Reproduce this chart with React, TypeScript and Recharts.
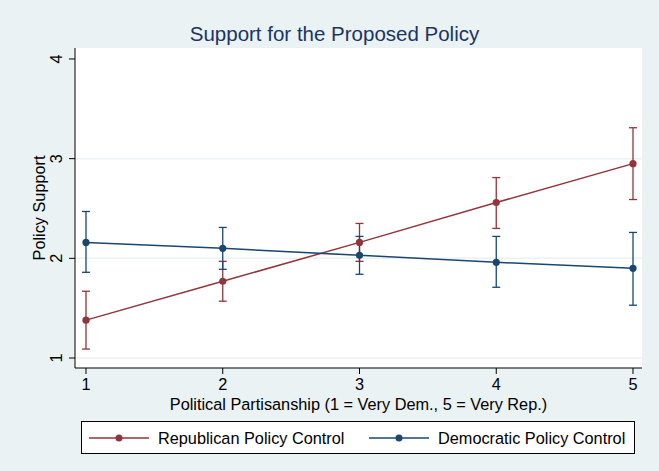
import React from 'react';
import { ComposedChart, Line, XAxis, YAxis, CartesianGrid, ErrorBar, Legend } from 'recharts';

// Mean policy support by partisanship, with 95% confidence bounds
const partisanship = [1, 2, 3, 4, 5];
const republicanMean = [1.38, 1.77, 2.16, 2.56, 2.95];
const republicanLow = [1.09, 1.57, 1.97, 2.3, 2.59];
const republicanHigh = [1.67, 1.97, 2.35, 2.81, 3.31];
const democraticMean = [2.16, 2.1, 2.03, 1.96, 1.9];
const democraticLow = [1.86, 1.89, 1.84, 1.71, 1.53];
const democraticHigh = [2.47, 2.31, 2.22, 2.22, 2.26];
const xTicks = [1, 2, 3, 4, 5];
const yTicks = [1, 2, 3, 4];

const seriesNames = ['Republican Policy Control', 'Democratic Policy Control'];

const RED = '#90353b';
const NAVY = '#1a476f';
const BG = '#eaf2f3';
const FONT = '"Liberation Sans", Arial, Helvetica, sans-serif';
const TEXT_SIZE = 16.3;

const build = (mean: number[], low: number[], high: number[]) =>
  partisanship.map((x, i) => ({
    x,
    y: mean[i],
    err: [mean[i] - low[i], high[i] - mean[i]],
  }));

const republicanData = build(republicanMean, republicanLow, republicanHigh);
const democraticData = build(democraticMean, democraticLow, democraticHigh);

// Vertical tick labels on the y axis
const YTick = (props: any) => {
  const { x, y, payload } = props;
  const bx = x - 1;
  return (
    <text
      x={bx}
      y={y}
      transform={`rotate(-90 ${bx} ${y})`}
      textAnchor="middle"
      fontSize={TEXT_SIZE}
      fontFamily={FONT}
      fill="#000"
    >
      {payload.value}
    </text>
  );
};

const legendOffsets = [
  { marker: 7, text: 76 },
  { marker: 287, text: 356 },
];

const LegendBox = (props: any) => {
  const payload = props.payload || [];
  const ordered = seriesNames
    .map((name) => payload.find((p: any) => p.value === name))
    .filter(Boolean);
  return (
    <div
      style={{
        width: 554,
        height: 33,
        boxSizing: 'border-box',
        border: '1px solid #000',
        background: '#fff',
        position: 'relative',
        fontFamily: FONT,
        fontSize: TEXT_SIZE,
        color: '#000',
      }}
    >
      {ordered.map((entry: any, i: number) => (
        <React.Fragment key={entry.value}>
          <svg
            width={60}
            height={10}
            style={{ position: 'absolute', left: legendOffsets[i].marker, top: 10.5 }}
          >
            <line x1={0} y1={5} x2={60} y2={5} stroke={entry.color} strokeWidth={1.5} />
            <circle cx={30} cy={5} r={3.5} fill={entry.color} />
          </svg>
          <span
            style={{
              position: 'absolute',
              left: legendOffsets[i].text,
              top: 5.7,
              lineHeight: '20px',
              whiteSpace: 'nowrap',
            }}
          >
            {entry.value}
          </span>
        </React.Fragment>
      ))}
    </div>
  );
};

export default function App() {
  return (
    <div
      style={{
        position: 'absolute',
        left: 0,
        top: 0,
        width: 659,
        height: 471,
        background: BG,
        fontFamily: FONT,
      }}
    >
      <div
        style={{
          position: 'absolute',
          left: 0,
          top: 22,
          width: 669,
          textAlign: 'center',
          fontSize: 20.5,
          lineHeight: '24px',
          color: '#1c3462',
          fontFamily: FONT,
        }}
      >
        Support for the Proposed Policy
      </div>
      <ComposedChart
        width={659}
        height={471}
        margin={{ top: 48, right: 17, left: 0, bottom: 20 }}
        style={{ position: 'absolute', left: 0, top: 0 }}
      >
        <CartesianGrid
          horizontal
          vertical={false}
          horizontalValues={[1, 2, 3]}
          stroke={BG}
          strokeWidth={1.5}
          fill="#fff"
        />
        <XAxis
          type="number"
          dataKey="x"
          domain={[0.9196, 5.0658]}
          ticks={xTicks}
          allowDataOverflow
          height={50}
          stroke="#000"
          tickSize={6}
          tickMargin={4}
          tick={{ fontSize: TEXT_SIZE, fill: '#000', fontFamily: FONT }}
          label={{
            value: 'Political Partisanship (1 = Very Dem., 5 = Very Rep.)',
            position: 'insideBottom',
            offset: 8,
            fontSize: TEXT_SIZE,
            fill: '#000',
            fontFamily: FONT,
          }}
        />
        <YAxis
          type="number"
          domain={[0.9, 4.11]}
          ticks={yTicks}
          allowDataOverflow
          width={75}
          stroke="#000"
          tickSize={6}
          tickMargin={6}
          tick={<YTick />}
          label={{
            value: 'Policy Support',
            angle: -90,
            position: 'insideLeft',
            offset: 39,
            fontSize: TEXT_SIZE,
            fill: '#000',
            fontFamily: FONT,
            style: { textAnchor: 'middle' },
          }}
        />
        <Legend
          verticalAlign="bottom"
          content={<LegendBox />}
          wrapperStyle={{ left: 81, bottom: 17, width: 554 }}
        />
        <Line
          name={seriesNames[0]}
          data={republicanData}
          dataKey="y"
          stroke={RED}
          strokeWidth={1.5}
          dot={{ r: 3.6, fill: RED, stroke: 'none' }}
          activeDot={false}
          isAnimationActive={false}
        >
          <ErrorBar dataKey="err" direction="y" width={4} stroke={RED} strokeWidth={1.3} />
        </Line>
        <Line
          name={seriesNames[1]}
          data={democraticData}
          dataKey="y"
          stroke={NAVY}
          strokeWidth={1.5}
          dot={{ r: 3.6, fill: NAVY, stroke: 'none' }}
          activeDot={false}
          isAnimationActive={false}
        >
          <ErrorBar dataKey="err" direction="y" width={4} stroke={NAVY} strokeWidth={1.3} />
        </Line>
      </ComposedChart>
    </div>
  );
}
